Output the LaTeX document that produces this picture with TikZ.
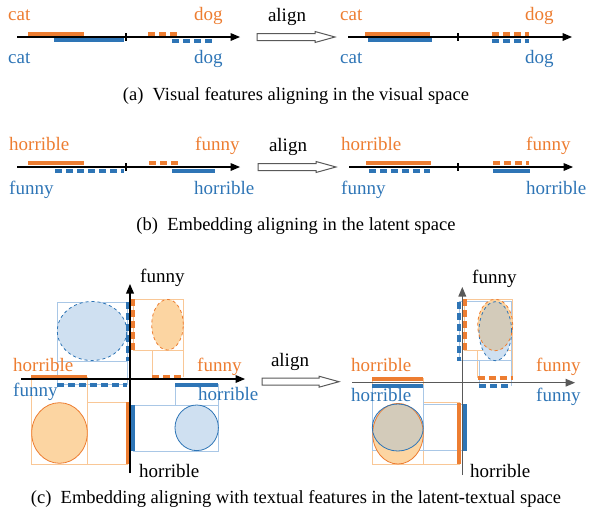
\documentclass[tikz,border=0pt]{standalone}
\usepackage{fontspec}
\setmainfont{Liberation Serif}
\usetikzlibrary{arrows}
\definecolor{orgC}{HTML}{ED7D31}
\definecolor{bluC}{HTML}{2E75B6}
\definecolor{orgFill}{HTML}{FCD5A2}
\definecolor{bluFill}{HTML}{CFE0F1}
\definecolor{mixFill}{HTML}{D3CBBA}
\definecolor{orgLight}{HTML}{F9C796}
\definecolor{bluLight}{HTML}{A9C7E6}
\tikzset{
  bar/.style={line width=4pt},
  dbar/.style={line width=4pt,dash pattern=on 7pt off 4pt},
  proj/.style={line width=0.8pt},
  axisline/.style={->,line width=1.2pt},
  lbl/.style={font=\fontsize{19}{22}\selectfont,inner sep=0pt,anchor=base west},
  capt/.style={font=\fontsize{18.5}{21}\selectfont,inner sep=0pt,anchor=base},
  alignarr/.style={line width=1pt,draw=black!65,fill=white,line join=miter}
}
\begin{document}
\begin{tikzpicture}[line cap=butt,>=triangle 45,x=1pt,y=-1pt]
\useasboundingbox (0,0) rectangle (589,520);
% (a) visual space
\draw [axisline] (17,37) -- (240,37);
\draw [line width=1.5pt] (126,33) -- (126,41);
\draw [bar,orgC] (28,33.5) -- (84,33.5);
\draw [bar,bluC] (54,40) -- (124,40);
\draw [dbar,orgC] (148,33.5) -- (179,33.5);
\draw [dbar,bluC] (172,40.5) -- (213,40.5);
\node [lbl,orgC] (catA) at (8,20) {cat};
\node [lbl,orgC] (dogA) at (194,20) {dog};
\node [lbl,bluC] (catB) at (8,63) {cat};
\node [lbl,bluC] (dogB) at (194,63) {dog};
\draw [alignarr] (257,33.5) -- (315,33.5) -- (315,31.5) -- (335,37) -- (315,42.5) -- (315,40.5) -- (257,40.5) -- cycle;
\node [lbl,anchor=base] (alignA) at (287,21.5) {align};
\draw [axisline] (348,37) -- (572,37);
\draw [line width=1.5pt] (458,33) -- (458,41);
\draw [bar,orgC] (365,33.5) -- (430,33.5);
\draw [bar,bluC] (368,40) -- (432,40);
\draw [dbar,orgC] (492,33.5) -- (529,33.5);
\draw [dbar,bluC] (492,40.5) -- (529,40.5);
\node [lbl,orgC] (catC) at (340,20) {cat};
\node [lbl,orgC] (dogC) at (525,20) {dog};
\node [lbl,bluC] (catD) at (340,63) {cat};
\node [lbl,bluC] (dogD) at (525,63) {dog};
\node [capt] (capA) at (296,100) {(a)\enspace Visual features aligning in the visual space};
% (b) latent space
\draw [axisline] (17,167) -- (240,167);
\draw [line width=1.5pt] (126,163) -- (126,171);
\draw [bar,orgC] (28,163.3) -- (84,163.3);
\draw [dbar,bluC] (55,170.7) -- (124,170.7);
\draw [dbar,orgC] (149,163.3) -- (180,163.3);
\draw [bar,bluC] (172,170.7) -- (215,170.7);
\node [lbl,orgC] (horA) at (9,150.7) {horrible};
\node [lbl,orgC] (funA) at (195,150.7) {funny};
\node [lbl,bluC] (funB) at (9,194) {funny};
\node [lbl,bluC] (horB) at (194,194) {horrible};
\draw [alignarr] (258,163.5) -- (316,163.5) -- (316,161.5) -- (336,167) -- (316,172.5) -- (316,170.5) -- (258,170.5) -- cycle;
\node [lbl,anchor=base] (alignB) at (288,151.5) {align};
\draw [axisline] (349,167) -- (573,167);
\draw [line width=1.5pt] (458,163) -- (458,171);
\draw [bar,orgC] (366,163.3) -- (431,163.3);
\draw [dbar,bluC] (369,170.7) -- (430,170.7);
\draw [dbar,orgC] (493,163.3) -- (529,163.3);
\draw [bar,bluC] (493,170.7) -- (530,170.7);
\node [lbl,orgC] (horC) at (341,150.7) {horrible};
\node [lbl,orgC] (funC) at (526,150.7) {funny};
\node [lbl,bluC] (funD) at (341,194) {funny};
\node [lbl,bluC] (horD) at (526,194) {horrible};
\node [capt] (capB) at (296,230) {(b)\enspace Embedding aligning in the latent space};
% (c) latent-textual space, before
\draw [proj,bluLight] (57,302) rectangle (127,384) (57,361) -- (127,361);
\draw [proj,orgLight] (133,299) rectangle (183,350) (152,350) -- (152,377) (183,350) -- (183,377);
\draw [proj,orgLight] (31,377) rectangle (87,464) (87,402.7) -- (127,402.7) -- (127,464) -- (87,464);
\draw [proj,bluLight] (133,405) rectangle (218,451) (175,384) -- (175,405) (218,384) -- (218,405);
\fill [bluFill] (92,331) ellipse (34.7pt and 29.5pt);
\draw [bluC,dashed,line width=0.8pt] (92,331) ellipse (34.7pt and 29.5pt);
\fill [orgFill] (167.5,324.7) ellipse (15.8pt and 25.3pt);
\draw [orgC,dashed,line width=0.8pt] (167.5,324.7) ellipse (15.8pt and 25.3pt);
\filldraw [fill=orgFill,draw=orgC,line width=0.8pt] (59.5,433) ellipse (27.8pt and 30.3pt);
\filldraw [fill=bluFill,draw=bluC,line width=0.8pt] (196.7,427.8) ellipse (21.7pt and 22.8pt);
\draw [dbar,bluC] (127.5,302) -- (127.5,361);
\draw [dbar,bluC] (57,384.5) -- (127,384.5);
\draw [dbar,orgC] (133,299) -- (133,350);
\draw [dbar,orgC] (152,377) -- (183,377);
\draw [bar,orgC] (31,376.7) -- (87,376.7);
\draw [bar,orgC] (127.5,402) -- (127.5,464);
\draw [bar,bluC] (175,384.5) -- (218,384.5);
\draw [bar,bluC] (133,405) -- (133,451);
\draw [axisline] (21,379) -- (245,379);
\draw [axisline] (130,473) -- (130,284);
\node [lbl] (funE) at (140,282.7) {funny};
\node [lbl] (horE) at (139,477) {horrible};
\node [lbl,orgC] (horF) at (13,371.7) {horrible};
\node [lbl,bluC] (funF) at (13,396.7) {funny};
\node [lbl,orgC] (funG) at (197,371.7) {funny};
\node [lbl,bluC] (horG) at (198,400.7) {horrible};
\draw [alignarr] (262,378.2) -- (319,378.2) -- (319,376.2) -- (339,381.7) -- (319,387.2) -- (319,385.2) -- (262,385.2) -- cycle;
\node [lbl,anchor=base] (alignC) at (290,366.7) {align};
% (c) latent-textual space, after
\draw [proj,orgLight] (464.3,299) rectangle (512.7,350) (477.7,350) -- (477.7,378.3) (512.7,350) -- (512.7,378.3);
\draw [proj,bluLight] (459.3,301.7) rectangle (511.7,360.7) (479,360.7) -- (479,385.5) (511.7,360.7) -- (511.7,385.5);
\draw [proj,orgLight] (372.3,378.7) rectangle (423.3,464) (423.3,402.7) -- (459.3,402.7) -- (459.3,464) -- (423.3,464);
\draw [proj,bluLight] (372.3,385) rectangle (423.3,450.7) (423.3,404) -- (465.3,404) -- (465.3,450.7) -- (423.3,450.7);
\fill [bluFill] (495.3,331.2) ellipse (16.3pt and 29.5pt);
\fill [orgFill] (495.2,325) ellipse (17.5pt and 25.7pt);
\begin{scope}
\clip (495.3,331.2) ellipse (16.3pt and 29.5pt);
\fill [mixFill] (495.2,325) ellipse (17.5pt and 25.7pt);
\end{scope}
\draw [bluC,dashed,line width=0.8pt] (495.3,331.2) ellipse (16.3pt and 29.5pt);
\draw [orgC,dashed,line width=0.8pt] (495.2,325) ellipse (17.5pt and 25.7pt);
\fill [orgFill] (398,433.7) ellipse (25.3pt and 30.3pt);
\fill [bluFill] (397.8,427.5) ellipse (25.5pt and 23.5pt);
\begin{scope}
\clip (397.8,427.5) ellipse (25.5pt and 23.5pt);
\fill [mixFill] (398,433.7) ellipse (25.3pt and 30.3pt);
\end{scope}
\draw [orgC,line width=0.8pt] (398,433.7) ellipse (25.3pt and 30.3pt);
\draw [bluC,line width=0.8pt] (397.8,427.5) ellipse (25.5pt and 23.5pt);
\draw [dbar,bluC] (459.3,301.7) -- (459.3,360.7);
\draw [dbar,orgC] (464.8,299) -- (464.8,350);
\draw [dbar,orgC] (477.7,378.3) -- (512.7,378.3);
\draw [dbar,bluC] (479,385.5) -- (511.7,385.5);
\draw [bar,orgC] (372.3,378.7) -- (423.3,378.7);
\draw [bar,bluC] (372.3,385.5) -- (423.3,385.5);
\draw [bar,orgC] (459.3,402.7) -- (459.3,464);
\draw [bar,bluC] (465.3,404) -- (465.3,450.7);
\draw [axisline,black!65] (352,382.7) -- (575,382.7);
\draw [axisline,black!65] (462.3,475) -- (462.3,287);
\node [lbl] (funH) at (472,283) {funny};
\node [lbl] (horH) at (470,477) {horrible};
\node [lbl,orgC] (horI) at (351,371.7) {horrible};
\node [lbl,bluC] (horJ) at (351,401.7) {horrible};
\node [lbl,orgC] (funI) at (536,371.7) {funny};
\node [lbl,bluC] (funJ) at (536,401.7) {funny};
\node [capt] (capC) at (296,503) {(c)\enspace Embedding aligning with textual features in the latent-textual space};
\end{tikzpicture}
\end{document}
